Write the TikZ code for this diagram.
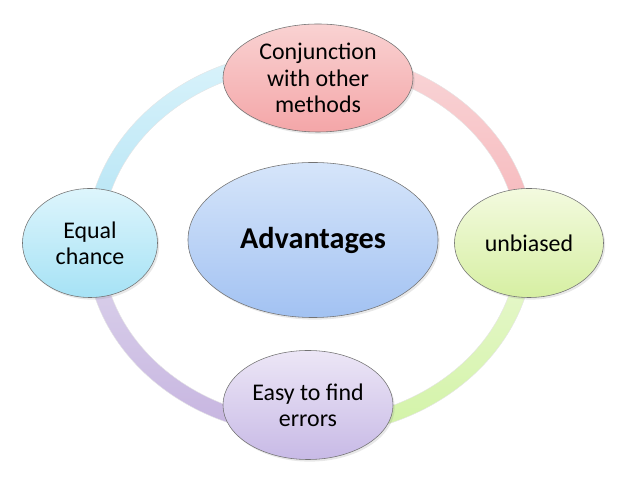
\documentclass[tikz,border=0pt]{standalone}
\usepackage{fontspec}
\setmainfont{Carlito}
\usetikzlibrary{shapes.geometric,shadows}

\definecolor{pinkTop}{HTML}{F9D2D2}
\definecolor{pinkBot}{HTML}{F4A6A8}
\definecolor{blueTop}{HTML}{D6E5FA}
\definecolor{blueBot}{HTML}{A2C2F2}
\definecolor{greenTop}{HTML}{F3FADF}
\definecolor{greenBot}{HTML}{D6EFA2}
\definecolor{lavTop}{HTML}{ECE6F6}
\definecolor{lavBot}{HTML}{C8BAE6}
\definecolor{cyanTop}{HTML}{DDF5FC}
\definecolor{cyanBot}{HTML}{A6E2F5}

\begin{document}
\begin{tikzpicture}[x=0.025cm,y=0.025cm,
  bubble/.style={ellipse,draw=black!55,line width=0.4pt,inner sep=0pt,align=center,
    font=\fontsize{17}{18.7}\selectfont,
    drop shadow={opacity=0.18,shadow xshift=1.2pt,shadow yshift=-1.5pt}}]
  \useasboundingbox (0,0) rectangle (638,479);
  \coordinate (ring) at (310,236);
  % ring, one shaded quarter per colour
  \foreach \a/\ctop/\cbot in {0/F9D6D8/F6B4B8, 90/DAF3FB/B2E3F4, 180/DDD5EC/C6B4E0, 270/EAF8D2/D2F3A6}{
    \definecolor{arcTop}{HTML}{\ctop}\definecolor{arcBot}{HTML}{\cbot}
    \shade[top color=arcTop,bottom color=arcBot,draw=black!10,line width=0.3pt]
      ([shift={(ring)}]\a:224 and 193) arc[start angle=\a,delta angle=90,x radius=224,y radius=193]
      -- ([shift={(ring)}]\a+90:208 and 177) arc[start angle=\a+90,delta angle=-90,x radius=208,y radius=177] -- cycle;}
  % bubbles
  \node[bubble,minimum width=6.25cm,minimum height=3.875cm,top color=blueTop,bottom color=blueBot,
    font=\fontsize{21.5}{24}\selectfont\bfseries] (adv) at (313,239) {Advantages};
  \node[bubble,minimum width=4.75cm,minimum height=2.7cm,top color=pinkTop,bottom color=pinkBot] (conj) at (318,401) {Conjunction\\with other\\methods};
  \node[bubble,minimum width=3.725cm,minimum height=2.725cm,top color=greenTop,bottom color=greenBot] (unb) at (529,236) {unbiased};
  \node[bubble,minimum width=4.25cm,minimum height=2.725cm,top color=lavTop,bottom color=lavBot] (easy) at (308,74) {Easy to find\\errors};
  \node[bubble,minimum width=3.375cm,minimum height=2.725cm,top color=cyanTop,bottom color=cyanBot] (equal) at (90,236) {Equal\\chance};
\end{tikzpicture}
\end{document}
